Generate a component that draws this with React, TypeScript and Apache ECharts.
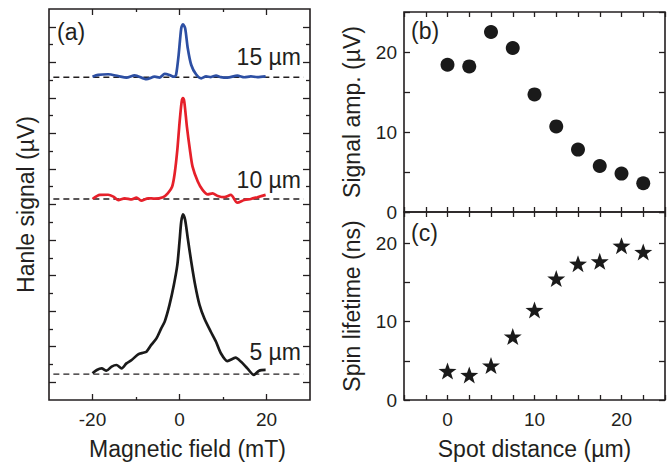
import React, { useEffect, useRef } from "react";
import * as echarts from "echarts";

// ---- Panel (a): Hanle curves (arbitrary stacked units) ----
const hanle15x = [-20, -18.7, -16.4, -14.1, -12.2, -10.3, -7.6, -5.7, -4.6, -3.4, -2.3, -1.3, -0.8, -0.2, 0.4, 0.8, 1.3, 1.9, 2.7, 3.8, 5.0, 6.1, 7.2, 8.4, 9.5, 11.0, 13.3, 14.9, 16.4, 17.9, 19.8];
const hanle15y = [18.19, 18.29, 18.33, 18.23, 18.14, 18.27, 18.05, 18.19, 18.14, 18.35, 18.29, 18.19, 18.29, 19.41, 20.92, 21.14, 20.92, 19.79, 18.85, 18.33, 18.1, 18.21, 18.17, 18.25, 18.17, 18.14, 18.25, 18.16, 18.21, 18.17, 18.21];

const hanle10x = [-20, -18.3, -16.4, -15.2, -14.1, -12.6, -11.0, -9.9, -8.8, -7.2, -5.7, -3.8, -2.7, -1.7, -1.1, -0.5, 0.0, 0.5, 0.8, 1.1, 1.7, 2.4, 3.0, 4.2, 5.3, 6.5, 7.6, 8.8, 10.3, 11.8, 13.3, 14.9, 16.4, 17.9, 19.8];
const hanle10y = [11.31, 11.54, 11.55, 11.44, 11.25, 11.35, 11.29, 11.39, 11.22, 11.35, 11.33, 11.41, 11.63, 12.0, 12.76, 14.07, 15.57, 16.79, 16.98, 16.79, 15.38, 14.07, 13.13, 12.29, 11.82, 11.57, 11.63, 11.48, 11.41, 11.54, 11.1, 11.25, 11.31, 11.41, 11.54];

const hanle5x = [-20, -19.0, -17.9, -16.8, -15.6, -14.5, -13.3, -12.2, -11.0, -9.5, -8.4, -7.6, -6.5, -5.3, -4.2, -3.4, -2.3, -1.3, -0.5, 0.0, 0.4, 0.8, 1.3, 1.9, 2.7, 3.6, 4.6, 5.7, 7.2, 8.4, 9.5, 11.0, 12.9, 14.1, 15.6, 17.1, 18.3, 19.8];
const hanle5y = [1.50, 1.69, 1.78, 1.65, 1.88, 1.97, 1.78, 2.06, 2.25, 2.57, 2.66, 2.72, 3.10, 3.47, 4.03, 4.41, 5.35, 6.47, 7.6, 8.91, 10.03, 10.45, 10.13, 9.1, 7.78, 6.47, 5.35, 4.6, 3.84, 3.28, 2.63, 2.19, 2.38, 2.16, 1.78, 1.41, 1.65, 1.69];

const baselineX = [-29, 28.5];
const baselines = [18.16, 11.31, 1.46];
const curveLabels = ["15 µm", "10 µm", "5 µm"];
const fieldLabelTicks = [-20, 0, 20];

// ---- Panels (b) and (c) ----
const spotDistance = [0, 2.5, 5, 7.5, 10, 12.5, 15, 17.5, 20, 22.5];
const signalAmp = [18.4, 18.2, 22.5, 20.5, 14.7, 10.7, 7.8, 5.75, 4.8, 3.6];
const spinLifetime = [3.7, 3.2, 4.4, 8.1, 11.5, 15.5, 17.4, 17.7, 19.7, 18.9];

const FONT = "'Liberation Sans', Arial, Helvetica, sans-serif";
const TXT = "#231f20";
const STAR = "path://M0,-10 L2.35,-3.24 L9.51,-3.09 L3.8,1.24 L5.88,8.09 L0,4 L-5.88,8.09 L-3.8,1.24 L-9.51,-3.09 L-2.35,-3.24 Z";

const zip = (xs: number[], ys: number[]) => xs.map((x, i) => [x, ys[i]]);

const tick = (len: number, custom?: number[]) => {
  const t: any = { show: true, inside: true, length: len, lineStyle: { color: TXT, width: 1.3 } };
  if (custom) t.customValues = custom;
  return t;
};

const baseAxis = (extra: any) => ({
  type: "value",
  axisLine: { show: false, onZero: false },
  splitLine: { show: false },
  axisLabel: { show: false },
  ...extra,
});

export default function App() {
  const ref = useRef<HTMLDivElement>(null);
  useEffect(() => {
    if (!ref.current) return;
    const chart = echarts.init(ref.current, undefined, { renderer: "svg" });

    const odd = Array.from({ length: 11 }, (_, i) => 2 * i + 1);
    const even = Array.from({ length: 10 }, (_, i) => 2 * i + 2);

    const aX = { gridIndex: 0, min: -30, max: 30, interval: 10 };
    const bcX = { min: -5, max: 25, interval: 2.5 };
    const aY = { gridIndex: 0, min: 0, max: 22, interval: 1 };

    const labelStyle = { show: true, fontFamily: FONT, fontSize: 19, color: TXT };
    const nameStyle = { fontFamily: FONT, fontSize: 23, color: TXT };

    const xAxis: any[] = [
      baseAxis({
        ...aX, position: "bottom", axisTick: tick(6, [-20, 0, 20]),
        axisLabel: { ...labelStyle, margin: 10, formatter: (v: number) => (fieldLabelTicks.includes(v) ? String(v) : "") },
        name: "Magnetic field (mT)", nameLocation: "middle", nameGap: 37,
        nameTextStyle: { ...nameStyle, padding: [0, 0, 0, 16] },
      }),
      baseAxis({ ...aX, position: "bottom", axisTick: tick(3, [-10, 10]) }),
      baseAxis({ ...aX, position: "top", axisTick: tick(6, [-20, 0, 20]) }),
      baseAxis({ ...aX, position: "top", axisTick: tick(3, [-10, 10]) }),
      baseAxis({ ...bcX, gridIndex: 1, position: "bottom", axisTick: tick(5) }),
      baseAxis({ ...bcX, gridIndex: 1, position: "top", axisTick: tick(5) }),
      baseAxis({
        ...bcX, gridIndex: 2, position: "bottom", axisTick: tick(5),
        axisLabel: { ...labelStyle, margin: 10, formatter: (v: number) => (v % 10 === 0 ? String(v) : "") },
        name: "Spot distance (µm)", nameLocation: "middle", nameGap: 37, nameTextStyle: nameStyle,
      }),
      baseAxis({ ...bcX, gridIndex: 2, position: "top", axisTick: tick(5) }),
    ];

    const yAxis: any[] = [
      baseAxis({
        ...aY, position: "left", axisTick: tick(7, odd),
        name: "Hanle signal (µV)", nameLocation: "middle", nameGap: 12, nameTextStyle: nameStyle,
      }),
      baseAxis({ ...aY, position: "left", axisTick: tick(4, even) }),
      baseAxis({ ...aY, position: "right", axisTick: tick(7, odd) }),
      baseAxis({ ...aY, position: "right", axisTick: tick(4, even) }),
      baseAxis({
        gridIndex: 1, min: 0, max: 25, interval: 5, position: "left", axisTick: tick(6),
        axisLabel: { ...labelStyle, margin: 7, formatter: (v: number) => (v % 10 === 0 ? String(v) : "") },
        name: "Signal amp. (µV)", nameLocation: "middle", nameGap: 41, nameTextStyle: nameStyle,
      }),
      baseAxis({ gridIndex: 1, min: 0, max: 25, interval: 5, position: "right", axisTick: tick(6) }),
      baseAxis({
        gridIndex: 2, min: 0, max: 24, interval: 5, position: "left", axisTick: tick(6),
        axisLabel: { ...labelStyle, margin: 7, formatter: (v: number) => (v % 10 === 0 ? String(v) : "") },
        name: "Spin lifetime (ns)", nameLocation: "middle", nameGap: 41, nameTextStyle: nameStyle,
      }),
      baseAxis({ gridIndex: 2, min: 0, max: 24, interval: 5, position: "right", axisTick: tick(6) }),
    ];

    const gridCommon = { show: true, borderColor: TXT, borderWidth: 1.6, backgroundColor: "transparent", containLabel: false, outerBoundsMode: "none" };

    const curve = (xs: number[], ys: number[], color: string) => ({
      type: "line", xAxisIndex: 0, yAxisIndex: 0, data: zip(xs, ys), showSymbol: false, symbol: "none",
      smooth: 0.25, lineStyle: { color, width: 2.7 }, z: 3,
    });

    const dashed = baselines.map((b) => ({
      type: "line", xAxisIndex: 0, yAxisIndex: 0, data: baselineX.map((x) => [x, b]), symbol: "none",
      lineStyle: { color: TXT, width: 1.3, type: [6, 4] }, z: 2,
    }));

    const labelY = [57, 180, 352];

    chart.setOption({
      animation: false,
      backgroundColor: "#ffffff",
      textStyle: { fontFamily: FONT },
      grid: [
        { ...gridCommon, left: 49, top: 9, width: 261, height: 391 },
        { ...gridCommon, left: 404, top: 12, width: 261, height: 200 },
        { ...gridCommon, left: 404, top: 212, width: 261, height: 188 },
      ],
      xAxis,
      yAxis,
      series: [
        ...dashed,
        curve(hanle15x, hanle15y, "#2d4fa3"),
        curve(hanle10x, hanle10y, "#e6202a"),
        curve(hanle5x, hanle5y, "#1a1a1a"),
        {
          type: "scatter", xAxisIndex: 4, yAxisIndex: 4, data: zip(spotDistance, signalAmp),
          symbol: "circle", symbolSize: 14, itemStyle: { color: "#1a1a1a", opacity: 1 },
        },
        {
          type: "scatter", xAxisIndex: 6, yAxisIndex: 6, data: zip(spotDistance, spinLifetime),
          symbol: STAR, symbolSize: [18, 17], itemStyle: { color: "#1a1a1a", opacity: 1 },
        },
      ],
      graphic: [
        { type: "text", x: 57, y: 32, style: { text: "(a)", font: `23px ${FONT}`, fill: TXT, verticalAlign: "middle" } },
        { type: "text", x: 411, y: 31, style: { text: "(b)", font: `23px ${FONT}`, fill: TXT, verticalAlign: "middle" } },
        { type: "text", x: 411, y: 233, style: { text: "(c)", font: `23px ${FONT}`, fill: TXT, verticalAlign: "middle" } },
        ...curveLabels.map((t, i) => ({
          type: "text", x: 301, y: labelY[i],
          style: { text: t, font: `23px ${FONT}`, fill: TXT, align: "right", verticalAlign: "middle" },
        })),
      ],
    });
    return () => chart.dispose();
  }, []);
  return <div ref={ref} style={{ position: "absolute", left: 0, top: 0, width: 670, height: 463 }} />;
}
